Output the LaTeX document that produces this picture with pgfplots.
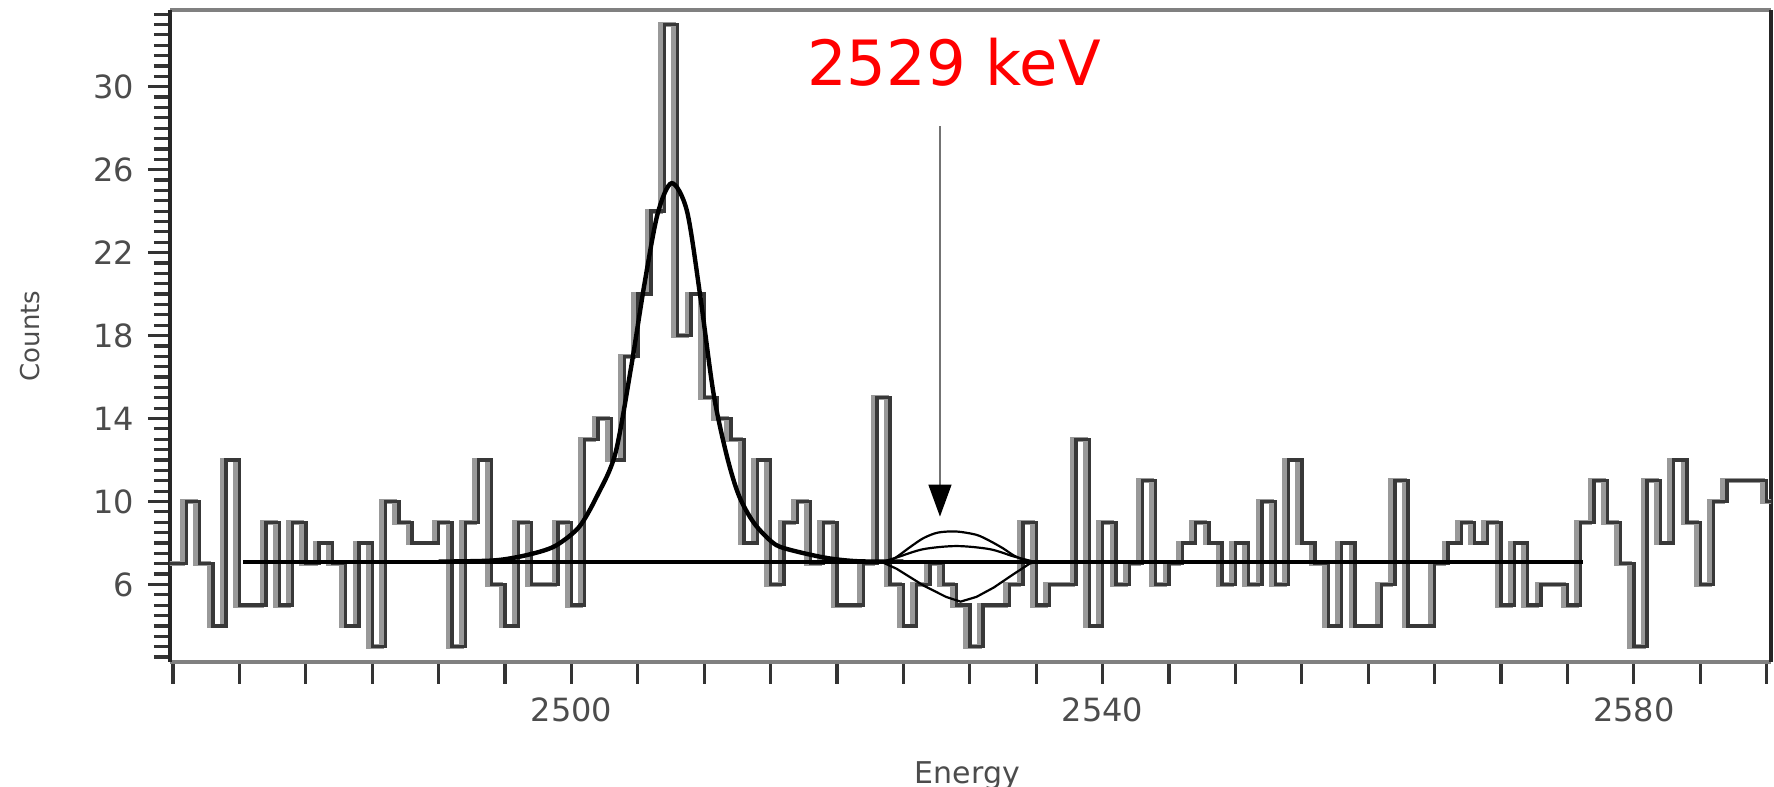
\documentclass[border=0pt]{standalone}
\usepackage{pgfplots}
\pgfplotsset{compat=1.18}
\usepackage{pgfplotstable}
\usepackage{fontspec}
\setmainfont{DejaVu Sans}
\usetikzlibrary{arrows.meta}

\pgfplotstableread{
E n
2469.7 7
2471 10
2472 7
2473 4
2474 12
2475 5
2476 5
2477 9
2478 5
2479 9
2480 7
2481 8
2482 7
2483 4
2484 8
2485 3
2486 10
2487 9
2488 8
2489 8
2490 9
2491 3
2492 9
2493 12
2494 6
2495 4
2496 9
2497 6
2498 6
2499 9
2500 5
2501 13
2502 14
2503 12
2504 17
2505 20
2506 24
2507 33
2508 18
2509 20
2510 15
2511 14
2512 13
2513 8
2514 12
2515 6
2516 9
2517 10
2518 7
2519 9
2520 5
2521 5
2522 7
2523 15
2524 6
2525 4
2526 6
2527 7
2528 6
2529 5
2530 3
2531 5
2532 5
2533 6
2534 9
2535 5
2536 6
2537 6
2538 13
2539 4
2540 9
2541 6
2542 7
2543 11
2544 6
2545 7
2546 8
2547 9
2548 8
2549 6
2550 8
2551 6
2552 10
2553 6
2554 12
2555 8
2556 7
2557 4
2558 8
2559 4
2560 4
2561 6
2562 11
2563 4
2564 4
2565 7
2566 8
2567 9
2568 8
2569 9
2570 5
2571 8
2572 5
2573 6
2574 6
2575 5
2576 9
2577 11
2578 9
2579 7
2580 3
2581 11
2582 8
2583 12
2584 9
2585 6
2586 10
2587 11
2588 11
2589 11
2590 10
2591 10
}\hist

\begin{document}
\begin{tikzpicture}[x=1pt,y=1pt]
\useasboundingbox (-42.5,-31.25) rectangle (401,165.5);
\begin{axis}[
  at={(0,0)}, anchor=south west,
  scale only axis, width=400.25pt, height=163pt,
  xmin=2469.77, xmax=2590.33, ymin=2.26, ymax=33.70,
  separate axis lines,
  every outer x axis line/.append style={draw=black!50, line width=1.1pt},
  every outer y axis line/.append style={draw=black!85, line width=1pt},
  xtick={2470,2475,...,2590},
  xticklabels={,,,,,,2500,,,,,,,,2540,,,,,,,,2580,,},
  ytick={6,10,14,18,22,26,30},
  yticklabels={6,10,14,18,22,26,30},
  minor ytick={2.5,3,...,33.5},
  tick pos=left,
  tick align=outside,
  major tick length=5.5pt, minor tick length=4pt,
  tick style={black!80, line width=0.8pt},
  tick label style={font=\fontsize{8}{9}\selectfont, text=black!70},
  xlabel={Energy}, ylabel={Counts},
  every axis x label/.style={at={(rel axis cs:0.498,0)}, yshift=-28.5pt, anchor=center, font=\fontsize{7.5}{9}\selectfont, text=black!70},
  every axis y label/.style={at={(rel axis cs:0,0.5)}, xshift=-35pt, rotate=90, anchor=center, font=\fontsize{6.5}{8}\selectfont, text=black!70},
  clip=true,
]
\addplot[const plot, black!40, line width=1.2pt, x filter/.expression={x-0.3}] table[x=E,y=n] {\hist};
\addplot[const plot, black!78, line width=0.85pt] table[x=E,y=n] {\hist};
\addplot[black, line width=1.05pt] coordinates {(2475.3,7.1) (2576.2,7.1)};
\addplot[smooth, black, line width=1.1pt] coordinates {
(2490,7.1) (2494,7.15) (2496.1,7.34) (2498,7.65) (2499.1,7.98) (2500.6,8.79)
(2501.9,10.23) (2503.3,12.3) (2504.5,16.5) (2505.5,20.5) (2506.5,23.9)
(2507.55,25.35) (2508.7,24.0) (2509.7,19.9) (2510.7,15.2) (2511.7,12.2)
(2512.6,10.3) (2513.7,9.0) (2515,8.1) (2516,7.75) (2519,7.3) (2521.5,7.12) (2525,7.1)};
\addplot[smooth, black, line width=0.55pt] coordinates {
(2523.5,7.1) (2524.3,7.25) (2525.5,7.8) (2526.5,8.23) (2527.6,8.5) (2529.0,8.55)
(2530.5,8.39) (2531.5,8.1) (2532.5,7.74) (2533.3,7.4) (2534.1,7.18) (2534.8,7.1)};
\addplot[smooth, black, line width=0.55pt] coordinates {
(2523.5,7.1) (2524.5,7.3) (2526.5,7.7) (2529.0,7.85) (2531.5,7.7) (2533.3,7.35) (2534.8,7.1)};
\addplot[black, line width=0.55pt] coordinates {
(2523.3,7.1) (2524.5,6.75) (2526.5,5.95) (2528.2,5.4) (2529.3,5.17) (2530.5,5.4)
(2531.8,5.85) (2533.3,6.5) (2534.5,7.0) (2535,7.1)};
\draw[black!55, line width=0.35pt, -{Triangle[width=5.75pt,length=8pt,color=black]}]
  (axis cs:2527.75,28.1) -- (axis cs:2527.75,9.27);
\node[text=red, font=\fontsize{15.6}{18}\selectfont] at (axis cs:2528.8,31.2) {2529 keV};
\end{axis}
\end{tikzpicture}
\end{document}
